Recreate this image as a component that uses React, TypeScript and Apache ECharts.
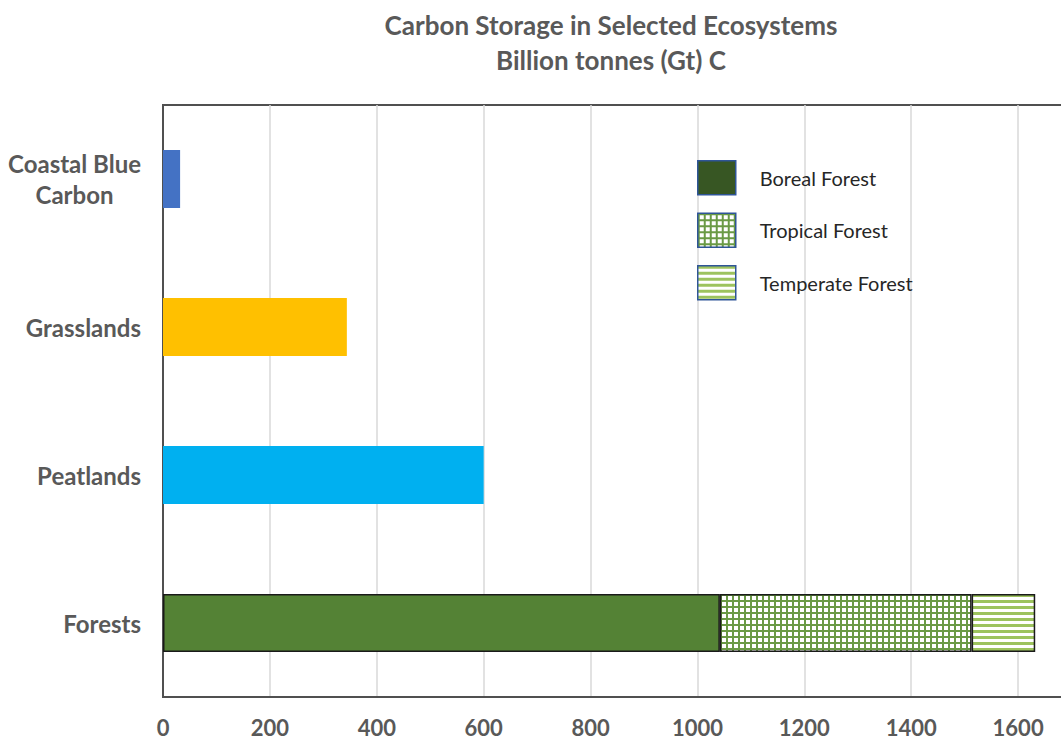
import React, { useEffect, useRef } from "react";
import * as echarts from "echarts";

const categories = ["Coastal Blue Carbon", "Grasslands", "Peatlands", "Forests"];
const ecosystemValues = [32, 344, 600, null];
const ecosystemColors = ["#4472C4", "#FFC000", "#00B0F0", "#548235"];
const borealValues = [null, null, null, 1042];
const tropicalValues = [null, null, null, 471];
const temperateValues = [null, null, null, 119];
const xTicks = [0, 200, 400, 600, 800, 1000, 1200, 1400, 1600, 1800];

function makeGrid(): HTMLCanvasElement {
  const c = document.createElement("canvas");
  c.width = 6;
  c.height = 6;
  const ctx = c.getContext("2d")!;
  ctx.fillStyle = "#ffffff";
  ctx.fillRect(0, 0, 6, 6);
  ctx.fillStyle = "#6A9A45";
  ctx.fillRect(0, 0, 6, 2);
  ctx.fillRect(0, 0, 2, 6);
  return c;
}

function makeStripes(): HTMLCanvasElement {
  const c = document.createElement("canvas");
  c.width = 6;
  c.height = 6;
  const ctx = c.getContext("2d")!;
  ctx.fillStyle = "#ffffff";
  ctx.fillRect(0, 0, 6, 6);
  ctx.fillStyle = "#9DC35E";
  ctx.fillRect(0, 0, 6, 3);
  return c;
}

export default function App() {
  const ref = useRef<HTMLDivElement>(null);
  useEffect(() => {
    if (!ref.current) return;
    const chart = echarts.init(ref.current, null, { renderer: "svg" });
    const gridPat: any = { image: makeGrid(), repeat: "repeat", imageWidth: 6, imageHeight: 6 };
    const stripePat: any = { image: makeStripes(), repeat: "repeat", imageWidth: 6, imageHeight: 6 };
    const font = "Lato";
    const labelColor = "#595959";
    chart.setOption({
      animation: false,
      backgroundColor: "#ffffff",
      title: {
        text: "Carbon Storage in Selected Ecosystems\nBillion tonnes (Gt) C",
        left: 606,
        top: 2,
        textAlign: "center",
        textStyle: {
          fontFamily: font,
          fontWeight: "bold",
          fontSize: 26,
          color: labelColor,
          lineHeight: 35,
        },
      },
      legend: {
        orient: "vertical",
        left: 697,
        top: 160,
        padding: 0,
        itemWidth: 38,
        itemHeight: 34,
        itemGap: 17,
        icon: "rect",
        textStyle: {
          fontFamily: font,
          fontSize: 20,
          color: "#262626",
          padding: [0, 0, 0, 19],
        },
        data: [
          { name: "Boreal Forest", itemStyle: { color: "#375623", borderColor: "#2F5597", borderWidth: 1.5 } },
          { name: "Tropical Forest", itemStyle: { color: gridPat, borderColor: "#2F5597", borderWidth: 1.5 } },
          { name: "Temperate Forest", itemStyle: { color: stripePat, borderColor: "#2F5597", borderWidth: 1.5 } },
        ],
      },
      grid: {
        left: 163,
        top: 105,
        bottom: 43,
        right: 15,
        outerBoundsMode: "none",
        containLabel: false,
        show: true,
        borderColor: "#505050",
        borderWidth: 2,
      },
      xAxis: {
        type: "value",
        min: xTicks[0],
        max: xTicks[xTicks.length - 1],
        interval: 200,
        axisLine: { show: true, lineStyle: { color: "#505050", width: 2 } },
        axisTick: { show: false },
        splitLine: { show: true, lineStyle: { color: "#D9D9D9", width: 1.5 } },
        axisLabel: {
          margin: 19,
          fontFamily: font,
          fontWeight: "bold",
          fontSize: 22,
          color: labelColor,
          showMaxLabel: false,
          formatter: (v: number) => String(v),
        },
      },
      yAxis: {
        type: "category",
        inverse: true,
        data: categories,
        axisLine: { show: true, lineStyle: { color: "#505050", width: 2 } },
        axisTick: { show: false },
        splitLine: { show: false },
        axisLabel: {
          margin: 22,
          fontFamily: font,
          fontWeight: "bold",
          fontSize: 24,
          color: labelColor,
          lineHeight: 31,
          formatter: (v: string) =>
            v === "Coastal Blue Carbon" ? "{c|Coastal Blue}\n{c|Carbon}" : v,
          rich: {
            c: {
              align: "center",
              fontFamily: font,
              fontWeight: "bold",
              fontSize: 24,
              color: labelColor,
              lineHeight: 31,
            },
          },
        },
      },
      series: [
        {
          name: "Ecosystems",
          type: "bar",
          barWidth: 58,
          barGap: "-100%",
          data: ecosystemValues.map((v, i) =>
            v == null ? "-" : { value: v, itemStyle: { color: ecosystemColors[i] } }
          ),
        },
        {
          name: "Boreal Forest",
          type: "bar",
          stack: "forest",
          barWidth: 58,
          barGap: "-100%",
          itemStyle: { color: "#548235", borderColor: "#1a1a1a", borderWidth: 1.5 },
          data: borealValues.map((v) => (v == null ? "-" : v)),
        },
        {
          name: "Tropical Forest",
          type: "bar",
          stack: "forest",
          barWidth: 58,
          barGap: "-100%",
          itemStyle: { color: gridPat, borderColor: "#1a1a1a", borderWidth: 1.5 },
          data: tropicalValues.map((v) => (v == null ? "-" : v)),
        },
        {
          name: "Temperate Forest",
          type: "bar",
          stack: "forest",
          barWidth: 58,
          barGap: "-100%",
          itemStyle: { color: stripePat, borderColor: "#1a1a1a", borderWidth: 1.5 },
          data: temperateValues.map((v) => (v == null ? "-" : v)),
        },
      ],
    });
    return () => chart.dispose();
  }, []);
  return (
    <div
      style={{ position: "absolute", left: 0, top: 0, width: 1061, height: 740, overflow: "hidden" }}
    >
      <div ref={ref} style={{ width: 1140, height: 740 }} />
    </div>
  );
}
